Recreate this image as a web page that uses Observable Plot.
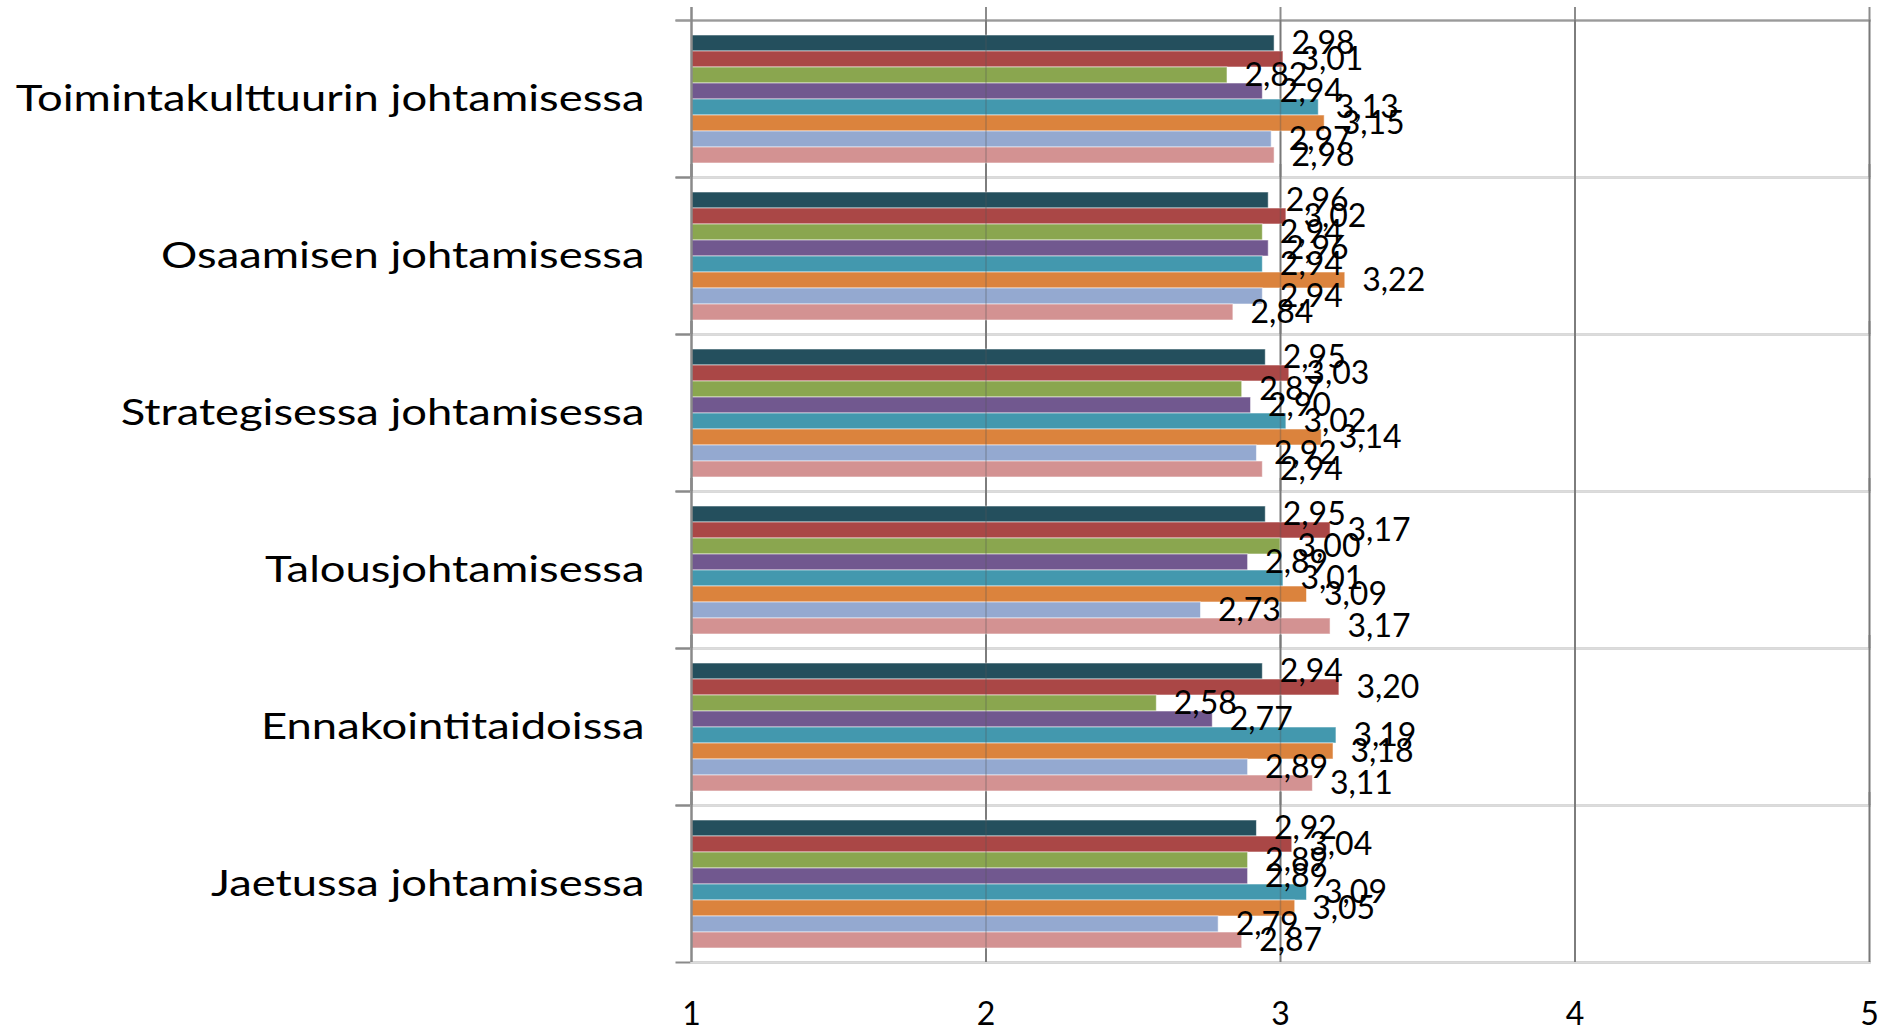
<!DOCTYPE html>
<html>
<head>
<meta charset="utf-8">
<script src="https://cdn.jsdelivr.net/npm/d3@7"></script>
<script src="https://cdn.jsdelivr.net/npm/@observablehq/plot@0.6"></script>
<style>
  html, body { margin: 0; padding: 0; background: #fff; }
  #chart svg { display: block; }
</style>
</head>
<body>
<div id="chart"></div>
<script>
const categories = [
  "Toimintakulttuurin johtamisessa",
  "Osaamisen johtamisessa",
  "Strategisessa johtamisessa",
  "Talousjohtamisessa",
  "Ennakointitaidoissa",
  "Jaetussa johtamisessa"
];
const series = ["Sarja 1", "Sarja 2", "Sarja 3", "Sarja 4", "Sarja 5", "Sarja 6", "Sarja 7", "Sarja 8"];
const colors = ["#244F5D", "#AA4746", "#8AA64F", "#71588F", "#4398AE", "#DB833D", "#94A9D0", "#D39292"];

const toimintakulttuuri = [2.98, 3.01, 2.82, 2.94, 3.13, 3.15, 2.97, 2.98];
const osaaminen        = [2.96, 3.02, 2.94, 2.96, 2.94, 3.22, 2.94, 2.84];
const strateginen      = [2.95, 3.03, 2.87, 2.90, 3.02, 3.14, 2.92, 2.94];
const talous           = [2.95, 3.17, 3.00, 2.89, 3.01, 3.09, 2.73, 3.17];
const ennakointi       = [2.94, 3.20, 2.58, 2.77, 3.19, 3.18, 2.89, 3.11];
const jaettu           = [2.92, 3.04, 2.89, 2.89, 3.09, 3.05, 2.79, 2.87];

const xTicks = [1, 2, 3, 4, 5];
const gridTicks = [2, 3, 4, 5];

const valueRows = [toimintakulttuuri, osaaminen, strateginen, talous, ennakointi, jaettu];
const data = [];
categories.forEach((c, i) => {
  series.forEach((s, j) => data.push({category: c, series: s, value: valueRows[i][j]}));
});

const fmt = v => v.toFixed(2).replace(".", ",");
const font = "Lato, 'Open Sans', sans-serif";
const categoryStretch = 1.26; // category labels are horizontally wide in the original

const chart = Plot.plot({
  width: 1894,
  height: 1032,
  marginLeft: 691,
  marginRight: 25,
  marginTop: 19,
  marginBottom: 69,
  style: {fontFamily: font, color: "#000", background: "#fff"},
  x: {domain: [1, 5]},
  y: {domain: series, paddingInner: 0, paddingOuter: 0.72, axis: null},
  fy: {domain: categories, padding: 0, label: null, axis: null},
  color: {domain: series, range: colors},
  marks: [
    // left tick marks (dark), overlaid by light boundary lines
    Plot.frame({anchor: "top", stroke: "#8a8a8a", strokeWidth: 2, insetLeft: -15}),
    Plot.frame({anchor: "bottom", stroke: "#8a8a8a", strokeWidth: 2, insetLeft: -15}),
    Plot.frame({anchor: "top", stroke: "#dcdcdc", strokeWidth: 2.5}),
    Plot.frame({anchor: "bottom", stroke: "#dcdcdc", strokeWidth: 2.5}),
    Plot.frame({anchor: "top", stroke: "#9a9a9a", strokeWidth: 2, insetLeft: -15, fy: categories[0]}),
    // vertical gridlines under bars
    Plot.ruleX(gridTicks, {stroke: "#8c8c8c", strokeWidth: 2, insetTop: -13}),
    Plot.barX(data, {
      x1: 1, x2: "value", y: "series", fy: "category", fill: "series",
      stroke: "#ffffff", strokeOpacity: 0.55, strokeWidth: 1
    }),
    // gridlines faintly visible through the bars
    Plot.ruleX(gridTicks, {stroke: "#555", strokeOpacity: 0.35, strokeWidth: 1.5}),
    // left axis line
    Plot.ruleX([1], {stroke: "#8a8a8a", strokeWidth: 2.5, insetTop: -13}),
    Plot.text(data, {
      x: "value", y: "series", fy: "category", text: d => fmt(d.value),
      textAnchor: "start", dx: 17, dy: 0, fontSize: 32, fill: "#000"
    }),
    Plot.axisFy({anchor: "left", tickSize: 0, tickPadding: 47, fontSize: 36, label: null}),
    Plot.axisX({ticks: xTicks, tickFormat: d => String(d), tickSize: 0, tickPadding: 40, fontSize: 32, label: null})
  ]
});

document.getElementById("chart").appendChild(chart);

// widen the category labels like the original (keeps them as real text)
chart.querySelectorAll('g[aria-label="fy-axis tick label"] text').forEach(t => {
  const w = t.getComputedTextLength();
  if (w > 0) {
    t.setAttribute("textLength", w * categoryStretch);
    t.setAttribute("lengthAdjust", "spacingAndGlyphs");
  }
});
</script>
</body>
</html>
